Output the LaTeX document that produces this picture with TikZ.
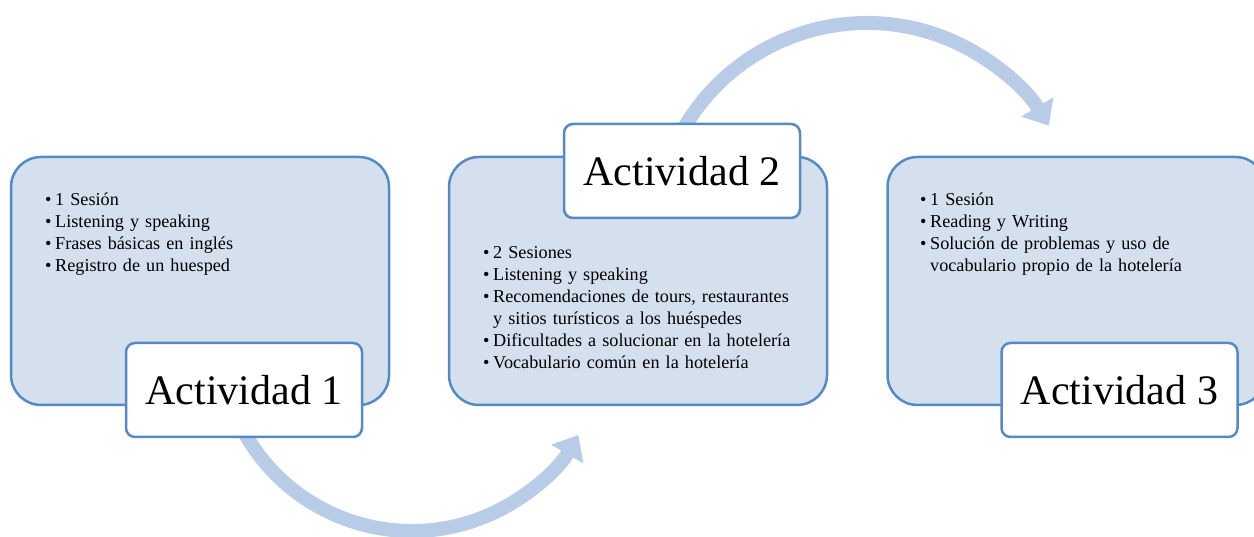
\documentclass[tikz,border=0pt]{standalone}
\usepackage{fontspec}
\setmainfont{Liberation Serif}
\usetikzlibrary{arrows.meta}
\definecolor{boxfill}{RGB}{213,224,239}
\definecolor{boxline}{RGB}{84,138,198}
\definecolor{flowcol}{RGB}{184,204,231}
\newcommand\bul[1]{\hangindent=10pt\hangafter=1\noindent\makebox[10pt][l]{\textbullet}#1\par}
\tikzset{
  actbox/.style={draw=boxline,line width=2.5pt,fill=boxfill,rounded corners=30pt,
    minimum width=378pt,minimum height=248pt,inner sep=0pt},
  actlabel/.style={draw=boxline,line width=2.5pt,fill=white,rounded corners=9pt,
    minimum width=236pt,minimum height=94pt,inner sep=0pt,font=\fontsize{42}{48}\selectfont},
  actlist/.style={anchor=north west,inner sep=0pt,text width=340pt,align=left,
    font=\fontsize{18.2}{22}\selectfont},
  flow/.style={flowcol,line width=14pt,-{Triangle[width=36pt,length=22pt]}}
}
\begin{document}
\begin{tikzpicture}[x=1pt,y=1pt]
    \useasboundingbox (0,0) rectangle (1254,537);
    \draw
    (200,256) node[actbox](b1) {}
    (638,256) node[actbox](b2) {}
    (1076.5,256) node[actbox](b3) {};
    \draw
    (45,344) node[actlist](t1) {\bul{1 Sesión}\bul{Listening y speaking}\bul{Frases básicas en inglés}\bul{Registro de un huesped}}
    (483,291) node[actlist](t2) {\bul{2 Sesiones}\bul{Listening y speaking}\bul{Recomendaciones de tours, restaurantes\newline y sitios turísticos a los huéspedes}\bul{Dificultades a solucionar en la hotelería}\bul{Vocabulario común en la hotelería}}
    (920,344) node[actlist](t3) {\bul{1 Sesión}\bul{Reading y Writing}\bul{Solución de problemas y uso de\newline vocabulario propio de la hotelería}};
    \coordinate (c1) at (412,198);
    \coordinate (c2) at (867,302);
    \draw[flow] ([shift={(205:192)}]c1) arc[start angle=205,end angle=330,radius=192];
    \draw[flow] ([shift={(155:212)}]c2) arc[start angle=155,end angle=31,radius=212];
    \draw
    (244,147) node[actlabel](a1) {Actividad 1}
    (682,366) node[actlabel](a2) {Actividad 2}
    (1119.5,147) node[actlabel](a3) {Actividad 3};
  \end{tikzpicture}
\end{document}
